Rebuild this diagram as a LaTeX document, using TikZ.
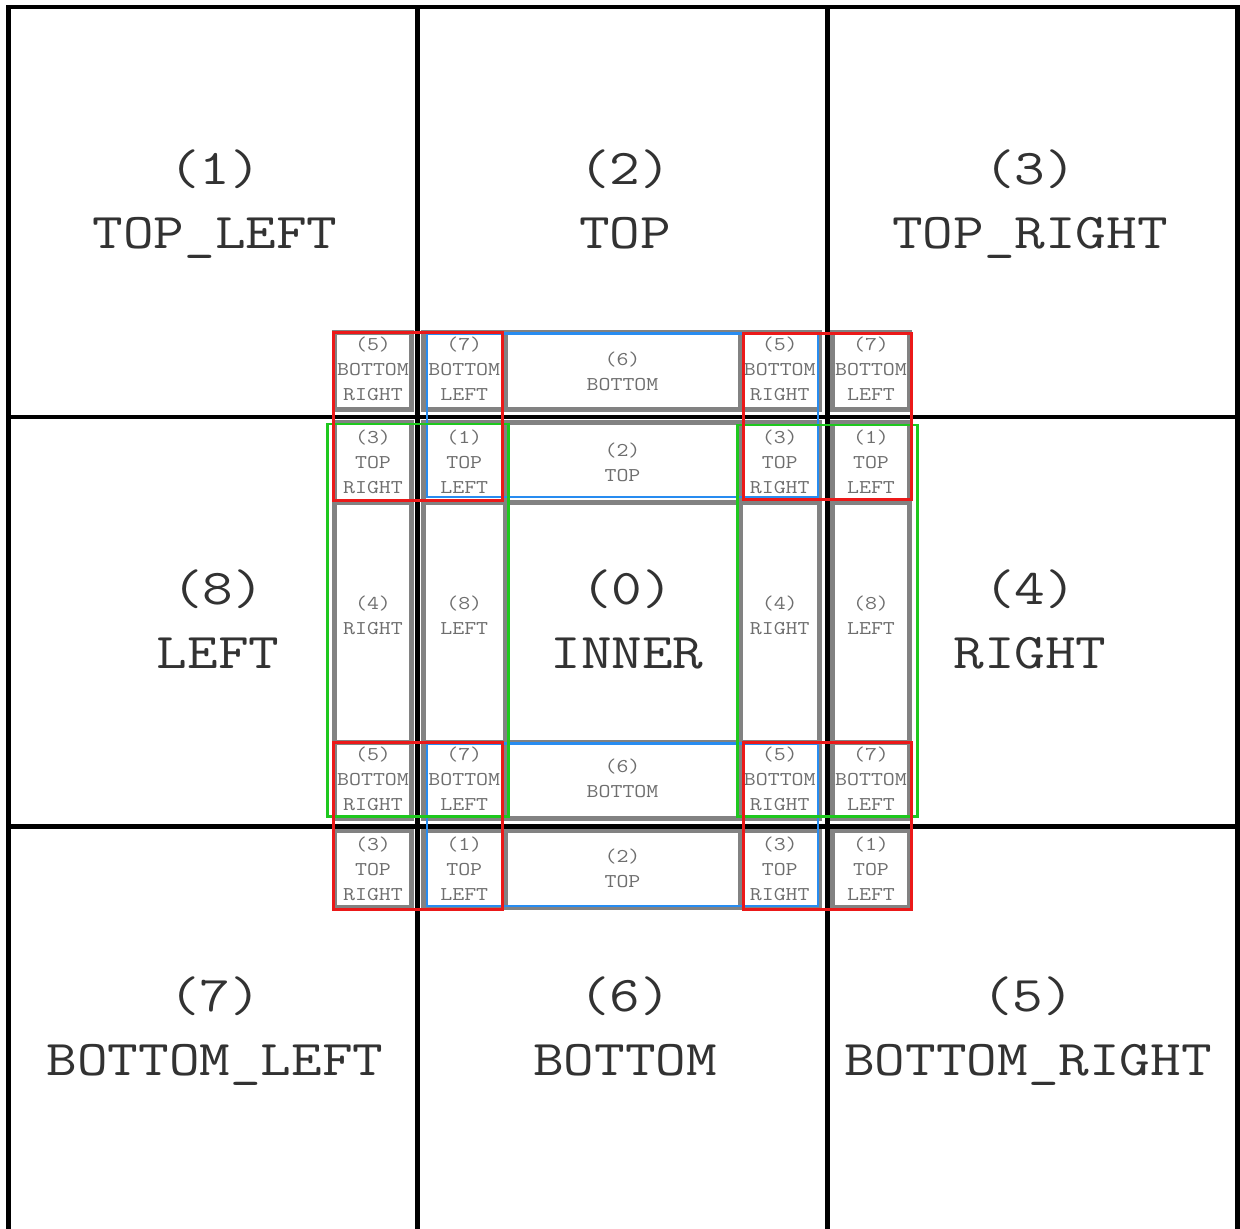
\documentclass[tikz,border=0pt]{standalone}
\usepackage{fontspec}
\newfontfamily\courfont{Latin Modern Mono}[FakeStretch=1.19]
\definecolor{boxgray}{RGB}{130,130,130}
\definecolor{bigtext}{RGB}{50,50,50}
\definecolor{smalltext}{RGB}{110,110,110}
\definecolor{myred}{RGB}{235,25,25}
\definecolor{myblue}{RGB}{40,140,240}
\definecolor{mygreen}{RGB}{30,200,30}
\newcommand\mydepth{\vphantom{(\_}}
\newcommand\mycell[7]{%
  \node[cell, minimum width={#4-#2}, minimum height={#5-#3}] (#1) at ({(#2+#4)/2},{(#3+#5)/2}) {};
  \node[celltext] (#1t) at ({(#2+#4)/2},{(#3+#5)/2+#7}) {#6\mydepth};}
\begin{document}
\begin{tikzpicture}[x=1pt,y=-1pt,
  cell/.style={draw=boxgray, line width=5pt, rectangle, inner sep=0pt},
  celltext/.style={align=center, inner sep=0pt, text=smalltext, font=\courfont\fontsize{19.5}{25}\selectfont},
  biglabel/.style={align=center, inner sep=0pt, text=bigtext, font=\courfont\fontsize{50}{64}\selectfont},
  gridline/.style={draw=black, line width=4.5pt},
  redbox/.style={draw=myred, line width=3pt},
  bluebox/.style={draw=myblue, line width=2.6pt},
  greenbox/.style={draw=mygreen, line width=2.6pt}]
\useasboundingbox (0,0) rectangle (1240,1229);
\clip (0,0) rectangle (1240,1229);
\fill[white] (0,0) rectangle (1240,1229);

% outer labels
\node[biglabel] (l1) at (215,204.5) {(1)\\TOP\_LEFT\mydepth};
\node[biglabel] (l2) at (625,204.5) {(2)\\TOP\mydepth};
\node[biglabel] (l3) at (1030,204.5) {(3)\\TOP\_RIGHT\mydepth};
\node[biglabel] (l8) at (218,624.5) {(8)\\LEFT\mydepth};
\node[biglabel] (l4) at (1030,624.5) {(4)\\RIGHT\mydepth};
\node[biglabel] (l7) at (215,1031.5) {(7)\\BOTTOM\_LEFT\mydepth};
\node[biglabel] (l6) at (625,1031.5) {(6)\\BOTTOM\mydepth};
\node[biglabel] (l5) at (1028,1031.5) {(5)\\BOTTOM\_RIGHT\mydepth};

% inner gray cells
% row a
\mycell{aA}{334.5}{332.5}{411.5}{409.5}{(5)\\BOTTOM\\RIGHT}{0}
\mycell{aB}{423.5}{332.5}{505}{409.5}{(7)\\BOTTOM\\LEFT}{0}
\mycell{aC}{505}{332.5}{740}{409.5}{(6)\\BOTTOM}{2.5}
\mycell{aD}{740}{332.5}{819.5}{409.5}{(5)\\BOTTOM\\RIGHT}{0}
\mycell{aE}{832.5}{332.5}{909.5}{409.5}{(7)\\BOTTOM\\LEFT}{0}
% row b
\mycell{bA}{334.5}{422.5}{411.5}{502}{(3)\\TOP\\RIGHT}{1}
\mycell{bB}{423.5}{422.5}{505}{502}{(1)\\TOP\\LEFT}{1}
\mycell{bC}{505}{422.5}{740}{502}{(2)\\TOP}{1.5}
\mycell{bD}{740}{422.5}{819.5}{502}{(3)\\TOP\\RIGHT}{1}
\mycell{bE}{832.5}{422.5}{909.5}{502}{(1)\\TOP\\LEFT}{1}
% row c
\mycell{cA}{334.5}{502}{411.5}{742}{(4)\\RIGHT}{-4.5}
\mycell{cB}{423.5}{502}{505}{742}{(8)\\LEFT}{-4.5}
\node[cell, minimum width=235, minimum height=240] (cC) at (622.5,622) {};
\node[biglabel] (cCt) at (627,624.5) {(0)\\INNER\mydepth};
\mycell{cD}{740}{502}{819.5}{742}{(4)\\RIGHT}{-4.5}
\mycell{cE}{832.5}{502}{909.5}{742}{(8)\\LEFT}{-4.5}
% row d
\mycell{dA}{334.5}{742}{411.5}{818}{(5)\\BOTTOM\\RIGHT}{1}
\mycell{dB}{423.5}{742}{505}{818}{(7)\\BOTTOM\\LEFT}{1}
\mycell{dC}{505}{742}{740}{818}{(6)\\BOTTOM}{0.5}
\mycell{dD}{740}{742}{819.5}{818}{(5)\\BOTTOM\\RIGHT}{1}
\mycell{dE}{832.5}{742}{909.5}{818}{(7)\\BOTTOM\\LEFT}{1}
% row e
\mycell{eA}{334.5}{830.5}{411.5}{907.5}{(3)\\TOP\\RIGHT}{2}
\mycell{eB}{423.5}{830.5}{505}{907.5}{(1)\\TOP\\LEFT}{2}
\mycell{eC}{505}{830.5}{740}{907.5}{(2)\\TOP}{1.5}
\mycell{eD}{740}{830.5}{819.5}{907.5}{(3)\\TOP\\RIGHT}{2}
\mycell{eE}{832.5}{830.5}{909.5}{907.5}{(1)\\TOP\\LEFT}{2}

% black grid
\draw[gridline] (8.5,1240) -- (8.5,7) -- (1237.5,7) -- (1237.5,1240);
\draw[gridline] (417.5,7) -- (417.5,1240);
\draw[gridline] (827.5,7) -- (827.5,1240);
\draw[gridline] (8.5,417) -- (1237.5,417);
\draw[gridline] (8.5,826.5) -- (1237.5,826.5);

% coloured outlines
\draw[bluebox] (427,333.5) rectangle (818,497);
\draw[bluebox] (427,743.5) rectangle (818,906);
\draw[greenbox] (327.5,424) rectangle (508.5,816.5);
\draw[greenbox] (737.5,425) rectangle (917.5,816.5);
\draw[redbox] (333.5,332.5) rectangle (502,500);
\draw[redbox] (743.5,333) rectangle (911.5,499);
\draw[redbox] (333.5,742.5) rectangle (502,909.5);
\draw[redbox] (743.5,742.5) rectangle (911.5,909.5);
\end{tikzpicture}
\end{document}
